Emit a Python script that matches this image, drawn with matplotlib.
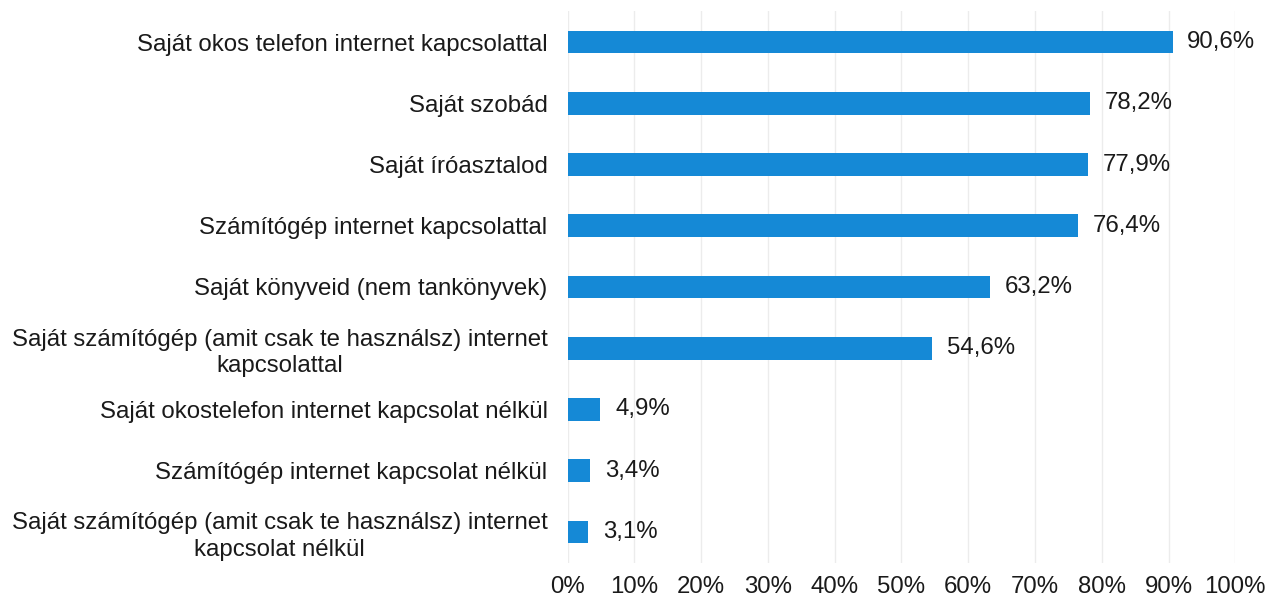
import matplotlib
matplotlib.use("Agg")
import matplotlib.pyplot as plt

categories = [
    "Saját okos telefon internet kapcsolattal",
    "Saját szobád",
    "Saját íróasztalod",
    "Számítógép internet kapcsolattal",
    "Saját könyveid (nem tankönyvek)",
    "Saját számítógép (amit csak te használsz) internet\nkapcsolattal",
    "Saját okostelefon internet kapcsolat nélkül",
    "Számítógép internet kapcsolat nélkül",
    "Saját számítógép (amit csak te használsz) internet\nkapcsolat nélkül",
]
values = [90.6, 78.2, 77.9, 76.4, 63.2, 54.6, 4.9, 3.4, 3.1]
ticks = list(range(0, 101, 10))

plt.rcParams["font.family"] = ["Liberation Sans", "DejaVu Sans"]
fs = 17.3

fig = plt.figure(figsize=(12.67, 6.01), dpi=100)
ax = fig.add_axes([0.448, 0.064, 0.527, 0.917])

pos = list(range(len(categories)))
ax.barh(pos, values, height=0.37, color="#1589d6", zorder=2)
for y, v in zip(pos, values):
    ax.text(v + 2.2, y, f"{v:.1f}%".replace(".", ","), va="center", ha="left",
            fontsize=fs, color="#1a1a1a")

ax.set_xlim(0, 100)
ax.set_ylim(len(categories) - 0.5, -0.5)
ax.set_yticks(pos)
ax.set_yticklabels(categories, fontsize=fs, color="#1a1a1a",
                   multialignment="center", linespacing=1.25)
ax.tick_params(axis="y", length=0, pad=14.4)
ax.set_xticks(ticks)
ax.set_xticklabels([f"{t}%" for t in ticks], fontsize=fs, color="#1a1a1a")
ax.tick_params(axis="x", length=0, pad=10)

ax.grid(axis="x", color="#ececec", linewidth=1, zorder=0)
for s in ax.spines.values():
    s.set_visible(False)

fig.savefig("out.png", dpi=100, facecolor="white")
